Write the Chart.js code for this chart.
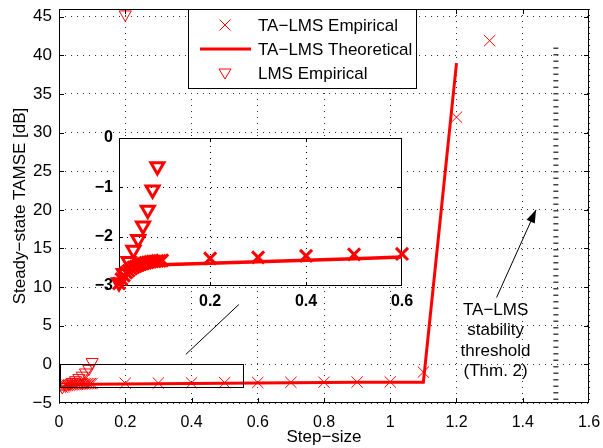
<!DOCTYPE html>
<html>
<head>
<meta charset="utf-8">
<script src="https://cdn.jsdelivr.net/npm/chart.js@4.4.1/dist/chart.umd.min.js"></script>
<style>
  body { margin: 0; background: #fff; }
  #wrap { position: relative; width: 603px; height: 448px; }
  #main { position: absolute; left: 0; top: 0; }
  #inset { position: absolute; left: 70px; top: 125px; }
</style>
</head>
<body>
<div id="wrap">
  <canvas id="main" width="603" height="448"></canvas>
  <canvas id="inset" width="350" height="195"></canvas>
</div>
<script>
// tick values
var xTicks = [0, 0.2, 0.4, 0.6, 0.8, 1, 1.2, 1.4, 1.6];
var yTicks = [-5, 0, 5, 10, 15, 20, 25, 30, 35, 40, 45];
var insetXTicks = [0.2, 0.4, 0.6];
var insetYTicks = [-3, -2, -1, 0];

// TA-LMS empirical
var taStep = [0.01, 0.015, 0.02, 0.025, 0.03, 0.035, 0.04, 0.045, 0.05, 0.055, 0.06, 0.065, 0.07, 0.075, 0.08, 0.085, 0.09, 0.095, 0.1,
              0.2, 0.3, 0.4, 0.5, 0.6, 0.7, 0.8, 0.9, 1.0, 1.1, 1.2, 1.3];
var taEmp = [-2.95, -2.86, -2.79, -2.73, -2.69, -2.65, -2.62, -2.6, -2.58, -2.56, -2.55, -2.53, -2.52, -2.51, -2.5, -2.5, -2.49, -2.49, -2.48,
             -2.44, -2.42, -2.39, -2.36, -2.35, -2.33, -2.31, -2.29, -2.27, -1.0, 32.0, 41.9];

// TA-LMS theoretical
var theoStep = [0.01, 0.02, 0.03, 0.04, 0.05, 0.06, 0.08, 0.1, 0.2, 0.3, 0.4, 0.5, 0.6, 0.7, 0.8, 0.9, 1.0, 1.1, 1.2];
var theoVal = [-2.97, -2.83, -2.74, -2.68, -2.64, -2.61, -2.59, -2.57, -2.54, -2.51, -2.48, -2.45, -2.41, -2.38, -2.36, -2.33, -2.31, -2.3, 39.0];

// LMS empirical
var lmsStep = [0.01, 0.02, 0.03, 0.04, 0.05, 0.06, 0.07, 0.08, 0.09, 0.1, 0.2];
var lmsEmp = [-2.93, -2.74, -2.5, -2.27, -2.05, -1.78, -1.46, -1.05, -0.58, 0.3, 45.3];

// stability threshold (dashed vertical)
var thresholdStep = [1.5, 1.5];
var thresholdVal = [-4.6, 41.5];

var legendLabels = ['TA\u2212LMS Empirical', 'TA\u2212LMS Theoretical', 'LMS Empirical'];
var noteLines = ['TA\u2212LMS', 'stability', 'threshold', '(Thm. 2)'];

var FAMILY = "'Liberation Sans', Arial, Helvetica, sans-serif";
var RED = '#ff0000';
var GRID = '#333';

var ix0 = 0.01, ix1 = 0.6, iy0 = -3, iy1 = 0;

function pts(xs, ys) {
  return xs.map(function(x, i) { return {x: x, y: ys[i]}; });
}
function inside(p, xmin, xmax, ymin, ymax) {
  return p.filter(function(q) { return q.x >= xmin && q.x <= xmax && q.y >= ymin && q.y <= ymax; });
}
function fmt(v) {
  var s = String(Math.round(v * 10) / 10);
  return v < 0 ? '\u2212' + s.replace('-', '') : s;
}

// plot box of a chart (shifted by ox, oy) with value -> pixel helpers
function box(chart, ox, oy) {
  var a = chart.chartArea, xs = chart.options.scales.x, ys = chart.options.scales.y;
  var b = {left: a.left + ox, right: a.right + ox, top: a.top + oy, bottom: a.bottom + oy};
  b.x = function(v) { return b.left + (v - xs.min) / (xs.max - xs.min) * (b.right - b.left); };
  b.y = function(v) { return b.bottom - (v - ys.min) / (ys.max - ys.min) * (b.bottom - b.top); };
  return b;
}

// outline + inward ticks, matlab style
function drawFrame(ctx, b, xt, yt, len) {
  ctx.save();
  ctx.fillStyle = '#000';
  xt.forEach(function(v) {
    var px = Math.min(Math.round(b.x(v)), b.right - 1);
    ctx.fillRect(px, b.bottom - len, 1, len);
    ctx.fillRect(px, b.top, 1, len);
  });
  yt.forEach(function(v) {
    var py = Math.min(Math.round(b.y(v)), b.bottom - 1);
    ctx.fillRect(b.left, py, len, 1);
    ctx.fillRect(b.right - len, py, len, 1);
  });
  ctx.strokeStyle = '#000';
  ctx.lineWidth = 1;
  ctx.strokeRect(b.left + 0.5, b.top + 0.5, b.right - b.left - 1, b.bottom - b.top - 1);
  ctx.restore();
}

// dotted grid as single pixels
function drawDots(ctx, b, xt, yt, gap) {
  ctx.save();
  ctx.fillStyle = '#000';
  xt.forEach(function(v) {
    var px = Math.round(b.x(v));
    for (var y = b.top + 2; y < b.bottom; y += gap) ctx.fillRect(px, Math.round(y), 1, 1);
  });
  yt.forEach(function(v) {
    var py = Math.round(b.y(v));
    for (var x = b.left + 2; x < b.right; x += gap) ctx.fillRect(Math.round(x), py, 1, 1);
  });
  ctx.restore();
}

function fixedAxis(size, horizontal) {
  return function(s) {
    if (horizontal) { s.height = size; s.paddingLeft = 0; s.paddingRight = 0; }
    else { s.width = size; s.paddingTop = 0; s.paddingBottom = 0; }
  };
}
function setTicks(list) {
  return function(s) { s.ticks = list.map(function(v) { return {value: v}; }); };
}

var tickFont = {family: FAMILY, size: 16};
var yTickFont = {family: FAMILY, size: 17};
var titleFont = {family: FAMILY, size: 17};
var boldFont = {family: FAMILY, size: 16, weight: 'bold'};

// inset first: the main canvas paints its box, grid and outline underneath
var insetCanvas = document.getElementById('inset');
var insetChart = new Chart(insetCanvas, {
  type: 'scatter',
  data: {
    datasets: [
      {
        data: inside(pts(lmsStep, lmsEmp), ix0, ix1, iy0, iy1),
        pointStyle: 'triangle', rotation: 180, pointRadius: 7.5,
        borderColor: RED, backgroundColor: 'rgba(0,0,0,0)', borderWidth: 3,
        showLine: false, clip: false, order: 1
      },
      {
        data: pts(theoStep, theoVal),
        showLine: true, borderColor: RED, borderWidth: 3.5, pointRadius: 0, clip: 0, order: 2
      },
      {
        data: inside(pts(taStep, taEmp), ix0, ix1, iy0, iy1),
        pointStyle: 'crossRot', pointRadius: 8.5,
        borderColor: RED, backgroundColor: RED, borderWidth: 3,
        showLine: false, clip: false, order: 3
      }
    ]
  },
  options: {
    responsive: false,
    animation: false,
    events: [],
    layout: {padding: {left: 0, right: 18, top: 13, bottom: 0}},
    plugins: {legend: {display: false}, tooltip: {enabled: false}},
    scales: {
      x: {
        type: 'linear', min: ix0, max: ix1,
        afterBuildTicks: setTicks(insetXTicks),
        afterFit: fixedAxis(34, true),
        ticks: {font: boldFont, color: '#000', padding: 6, maxRotation: 0, autoSkip: false, callback: fmt},
        grid: {display: false, drawTicks: false},
        border: {display: false}
      },
      y: {
        type: 'linear', min: iy0, max: iy1,
        afterBuildTicks: setTicks(insetYTicks),
        afterFit: fixedAxis(49, false),
        ticks: {font: boldFont, color: '#000', padding: 6, autoSkip: false, callback: fmt},
        grid: {display: false, drawTicks: false},
        border: {display: false}
      }
    }
  }
});

var mainPlugin = {
  id: 'mainExtras',
  afterDraw: function(chart) {
    var ctx = chart.ctx, a = chart.chartArea, sx = chart.scales.x, sy = chart.scales.y;
    drawFrame(ctx, box(chart, 0, 0), xTicks, yTicks, 5);

    ctx.save();
    // zoom rectangle
    ctx.strokeStyle = '#000';
    ctx.lineWidth = 1;
    var rx0 = sx.getPixelForValue(0.003), rx1 = sx.getPixelForValue(0.555);
    var ry0 = sy.getPixelForValue(0), ry1 = sy.getPixelForValue(-3);
    ctx.strokeRect(Math.round(rx0) + 0.5, Math.round(ry0) + 0.5, Math.round(rx1 - rx0), Math.round(ry1 - ry0));

    // connector to inset
    ctx.beginPath();
    ctx.moveTo(sx.getPixelForValue(0.383), sy.getPixelForValue(1.3));
    ctx.lineTo(sx.getPixelForValue(0.543), sy.getPixelForValue(7.75));
    ctx.stroke();

    // arrow to threshold
    var tx = sx.getPixelForValue(1.321), ty = sy.getPixelForValue(8.66);
    var hx = sx.getPixelForValue(1.44), hy = sy.getPixelForValue(20.0);
    var ang = Math.atan2(hy - ty, hx - tx);
    ctx.beginPath();
    ctx.moveTo(tx, ty); ctx.lineTo(hx, hy);
    ctx.stroke();
    ctx.fillStyle = '#000';
    ctx.beginPath();
    ctx.moveTo(hx, hy);
    ctx.lineTo(hx - 13 * Math.cos(ang) + 4.5 * Math.sin(ang), hy - 13 * Math.sin(ang) - 4.5 * Math.cos(ang));
    ctx.lineTo(hx - 13 * Math.cos(ang) - 4.5 * Math.sin(ang), hy - 13 * Math.sin(ang) + 4.5 * Math.cos(ang));
    ctx.closePath();
    ctx.fill();

    // note text
    ctx.font = '17px ' + FAMILY;
    ctx.textAlign = 'center';
    ctx.textBaseline = 'middle';
    var nx = sx.getPixelForValue(1.318), ny = sy.getPixelForValue(7.0);
    noteLines.forEach(function(t, i) { ctx.fillText(t, nx, ny + i * 20.3); });

    // legend
    var lx = a.left + 129, ly = a.top, lw = 228, lh = 79;
    ctx.fillStyle = '#fff';
    ctx.fillRect(lx, ly, lw, lh);
    ctx.strokeStyle = '#000';
    ctx.strokeRect(lx + 0.5, ly + 0.5, lw, lh);
    var mx = lx + 37, textX = lx + 70;
    var rows = [ly + 16, ly + 40, ly + 64];
    ctx.strokeStyle = RED;
    ctx.lineWidth = 1;
    ctx.beginPath();
    ctx.moveTo(mx - 5.5, rows[0] - 5.5); ctx.lineTo(mx + 5.5, rows[0] + 5.5);
    ctx.moveTo(mx + 5.5, rows[0] - 5.5); ctx.lineTo(mx - 5.5, rows[0] + 5.5);
    ctx.stroke();
    ctx.lineWidth = 3;
    ctx.beginPath();
    ctx.moveTo(lx + 12, rows[1]); ctx.lineTo(lx + 63, rows[1]);
    ctx.stroke();
    ctx.lineWidth = 1;
    ctx.beginPath();
    ctx.moveTo(mx - 6, rows[2] - 4); ctx.lineTo(mx + 6, rows[2] - 4); ctx.lineTo(mx, rows[2] + 6);
    ctx.closePath();
    ctx.stroke();
    ctx.fillStyle = '#000';
    ctx.textAlign = 'left';
    legendLabels.forEach(function(t, i) { ctx.fillText(t, textX, rows[i] + 1); });

    // inset plot box (its marks and labels come from the inset canvas on top)
    var ib = box(insetChart, insetCanvas.offsetLeft, insetCanvas.offsetTop);
    ctx.fillStyle = '#fff';
    ctx.fillRect(ib.left, ib.top, ib.right - ib.left, ib.bottom - ib.top);
    drawDots(ctx, ib, [0.2, 0.4], [-2, -1], 6);
    drawFrame(ctx, ib, insetXTicks, insetYTicks, 4);
    ctx.restore();
  }
};

new Chart(document.getElementById('main'), {
  type: 'scatter',
  data: {
    datasets: [
      {
        label: legendLabels[2],
        data: pts(lmsStep, lmsEmp),
        pointStyle: 'triangle', rotation: 180, pointRadius: 7,
        borderColor: RED, backgroundColor: 'rgba(0,0,0,0)', borderWidth: 1,
        showLine: false, order: 1
      },
      {
        label: legendLabels[1],
        data: pts(theoStep, theoVal),
        showLine: true, borderColor: RED, borderWidth: 3, pointRadius: 0, fill: false, order: 2
      },
      {
        label: legendLabels[0],
        data: pts(taStep, taEmp),
        pointStyle: 'crossRot', pointRadius: 8,
        borderColor: RED, backgroundColor: RED, borderWidth: 1,
        showLine: false, order: 3
      },
      {
        label: 'threshold',
        data: pts(thresholdStep, thresholdVal),
        showLine: true, borderColor: '#444', borderWidth: 5, borderDash: [1.5, 5], pointRadius: 0, order: 4
      }
    ]
  },
  options: {
    responsive: false,
    animation: false,
    events: [],
    layout: {padding: {left: 0, right: 14, top: 8, bottom: 0}},
    plugins: {legend: {display: false}, tooltip: {enabled: false}},
    scales: {
      x: {
        type: 'linear', min: 0, max: 1.6,
        afterBuildTicks: setTicks(xTicks),
        afterFit: fixedAxis(45, true),
        ticks: {font: tickFont, color: '#000', padding: 10, maxRotation: 0, autoSkip: false, callback: fmt},
        grid: {color: GRID, lineWidth: 1, drawTicks: false},
        border: {display: false, dash: [1, 5]},
        title: {display: true, text: 'Step\u2212size', font: titleFont, color: '#000', padding: {top: 0, bottom: 0}}
      },
      y: {
        type: 'linear', min: -5, max: 46,
        afterBuildTicks: setTicks(yTicks),
        afterFit: fixedAxis(59, false),
        ticks: {font: yTickFont, color: '#000', padding: 7, autoSkip: false, callback: fmt},
        grid: {color: GRID, lineWidth: 1, drawTicks: false},
        border: {display: false, dash: [1, 5]},
        title: {display: true, text: 'Steady\u2212state TAMSE [dB]', font: titleFont, color: '#000', padding: {top: 10, bottom: 0}}
      }
    }
  },
  plugins: [mainPlugin]
});
</script>
</body>
</html>
